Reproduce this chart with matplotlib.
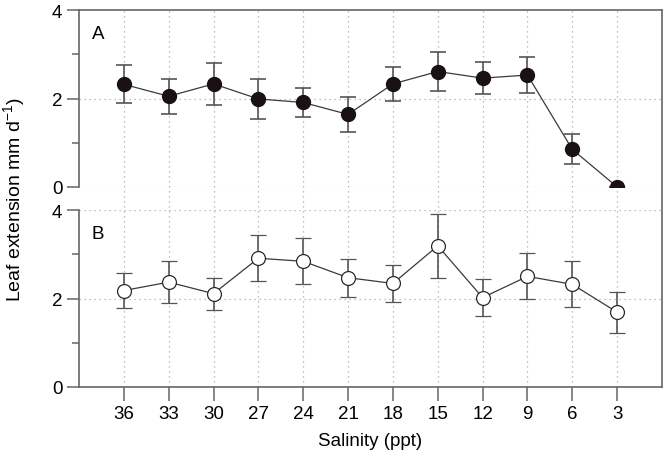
import matplotlib
matplotlib.use("Agg")
import matplotlib.pyplot as plt
import numpy as np

plt.rcParams['font.family'] = ['Liberation Sans', 'DejaVu Sans']

salinity = ["36", "33", "30", "27", "24", "21", "18", "15", "12", "9", "6", "3"]
a_mean = [2.32, 2.05, 2.33, 1.99, 1.91, 1.64, 2.33, 2.61, 2.46, 2.53, 0.85, 0.0]
a_err = [0.43, 0.39, 0.48, 0.45, 0.33, 0.39, 0.38, 0.43, 0.36, 0.40, 0.34, 0.0]
b_mean = [2.18, 2.37, 2.11, 2.91, 2.84, 2.47, 2.34, 3.19, 2.02, 2.50, 2.32, 1.69]
b_err = [0.40, 0.48, 0.36, 0.52, 0.52, 0.43, 0.41, 0.73, 0.42, 0.52, 0.52, 0.46]

x = np.arange(len(salinity))

fig = plt.figure(figsize=(6.66, 4.56), dpi=100)
L, R = 79/666, 662/666
topA, botA = 1 - 11/456, 1 - 188/456
topB, botB = 1 - 211/456, 1 - 388/456

spine_col = '#666666'
grid_col = '#aaaaaa'
fs = 13.5

# background axes for continuous right spine and vertical grid
bg = fig.add_axes([L, botB, R - L, topA - botB])
bg.set_xlim(-1, 12)
bg.set_ylim(0, 1)
for s in ['left', 'top', 'bottom']:
    bg.spines[s].set_visible(False)
bg.spines['right'].set_color(spine_col)
bg.spines['right'].set_linewidth(1.2)
bg.set_yticks([])
bg.set_xticks([])
for xi in x:
    bg.axvline(xi, color=grid_col, ls=(0, (1, 3)), lw=0.9, zorder=0)
bg.patch.set_visible(False)

axA = fig.add_axes([L, botA, R - L, topA - botA])
axB = fig.add_axes([L, botB, R - L, topB - botB])

for ax in (axA, axB):
    ax.patch.set_visible(False)
    ax.set_xlim(-1, 12)
    ax.set_ylim(0, 4)
    ax.set_yticks([0, 2, 4])
    ax.set_yticks([1, 3], minor=True)
    ax.spines['right'].set_visible(False)
    ax.spines['left'].set_color(spine_col)
    ax.spines['left'].set_linewidth(1.2)
    ax.tick_params(axis='y', which='major', length=9, width=1.1, color=spine_col,
                   labelsize=fs, pad=3)
    ax.tick_params(axis='y', which='minor', length=5, width=1.1, color=spine_col)

axA.spines['bottom'].set_visible(False)
axA.spines['top'].set_color(spine_col)
axA.spines['top'].set_linewidth(1.2)
axA.set_xticks([])
for yv in [0, 2]:
    axA.axhline(yv, color=grid_col, ls=(0, (1, 3)), lw=0.9, zorder=0)

axB.spines['top'].set_visible(False)
axB.spines['bottom'].set_color(spine_col)
axB.spines['bottom'].set_linewidth(1.2)
axB.set_xticks(x)
axB.set_xticklabels(salinity)
axB.tick_params(axis='x', length=10, width=1.1, color=spine_col, labelsize=fs, pad=3)
for yv in [2, 4]:
    axB.axhline(yv, color=grid_col, ls=(0, (1, 3)), lw=0.9, zorder=0)

axA.errorbar(x, a_mean, yerr=a_err, fmt='-o', color='#3a3a3a', lw=0.9,
             ecolor='#555555', elinewidth=1.2, capsize=5.5, capthick=1.2,
             marker='o', ms=10, mfc='#1a1212', mec='#1a1212', zorder=3)
axB.errorbar(x, b_mean, yerr=b_err, fmt='-o', color='#3a3a3a', lw=0.9,
             ecolor='#555555', elinewidth=1.2, capsize=5.5, capthick=1.2,
             marker='o', ms=10, mfc='white', mec='#2a2a2a', mew=0.9, zorder=3)

axA.text(0.022, 0.87, 'A', transform=axA.transAxes, fontsize=fs, ha='left', va='center')
axB.text(0.022, 0.87, 'B', transform=axB.transAxes, fontsize=fs, ha='left', va='center')

axB.set_xlabel('Salinity (ppt)', fontsize=fs, labelpad=7)
fig.text(0.022, (topA + botB) / 2, 'Leaf extension mm d$^{\\mathregular{-1}}$)',
         rotation=90, ha='center', va='center', fontsize=14)

fig.savefig('out.png', dpi=100)
